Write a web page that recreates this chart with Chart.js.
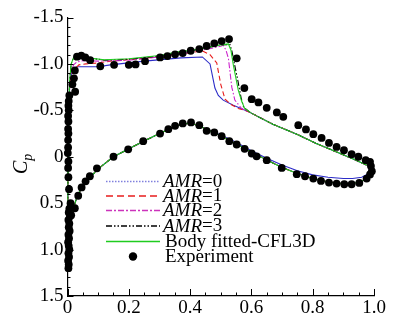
<!DOCTYPE html>
<html>
<head>
<meta charset="utf-8">
<script src="https://cdn.jsdelivr.net/npm/chart.js@4.4.1/dist/chart.umd.min.js"></script>
<style>
  html, body { margin: 0; padding: 0; background: #fff; }
  #wrap { width: 409px; height: 326px; }
</style>
</head>
<body>
<div id="wrap"><canvas id="cp"></canvas></div>
<script>
// tick values
const xTickValues = [0, 0.2, 0.4, 0.6, 0.8, 1.0];
const yTickValues = [-1.5, -1.0, -0.5, 0, 0.5, 1.0, 1.5];

// lower surface (shared by the CFD runs), LE -> TE
const lowerX = [0, 0.003, 0.007, 0.012, 0.02, 0.03, 0.045, 0.06, 0.08, 0.1, 0.15, 0.2, 0.25, 0.3, 0.35, 0.38, 0.4, 0.43, 0.45, 0.5, 0.55, 0.6, 0.65, 0.7, 0.75, 0.8, 0.85, 0.9, 0.93, 0.96, 0.98, 0.995];
const lowerCp = [1.0, 0.85, 0.72, 0.64, 0.55, 0.44, 0.34, 0.27, 0.2, 0.13, 0.0, -0.085, -0.17, -0.25, -0.325, -0.355, -0.36, -0.335, -0.3, -0.225, -0.14, -0.05, 0.035, 0.115, 0.18, 0.235, 0.27, 0.29, 0.29, 0.265, 0.215, 0.16];
const lowerCpAmr0 = [1.0, 0.85, 0.72, 0.64, 0.55, 0.44, 0.34, 0.27, 0.2, 0.13, 0.0, -0.085, -0.17, -0.25, -0.325, -0.355, -0.36, -0.335, -0.305, -0.235, -0.155, -0.065, 0.015, 0.09, 0.15, 0.195, 0.22, 0.235, 0.235, 0.22, 0.185, 0.14];

// upper surface behind the shock (shared)
const aftX = [0.6, 0.62, 0.67, 0.75, 0.81, 0.89, 0.94, 0.975, 0.995];
const aftCp = [-0.47, -0.435, -0.35, -0.24, -0.145, -0.035, 0.035, 0.09, 0.12];

// upper surface, LE -> shock, per run
const amr0X = [0.001, 0.002, 0.004, 0.007, 0.012, 0.02, 0.03, 0.06, 0.1, 0.14, 0.25, 0.37, 0.44, 0.465, 0.481, 0.492, 0.508, 0.541, 0.574];
const amr0Cp = [0.5, 0.0, -0.5, -0.75, -0.88, -0.95, -0.97, -0.97, -0.97, -0.99, -1.03, -1.065, -1.075, -1.0, -0.74, -0.66, -0.61, -0.556, -0.51];
const amr1X = [0.001, 0.002, 0.004, 0.007, 0.012, 0.02, 0.037, 0.06, 0.1, 0.14, 0.25, 0.356, 0.44, 0.465, 0.487, 0.5, 0.514, 0.535, 0.557, 0.58];
const amr1Cp = [0.5, 0.0, -0.5, -0.75, -0.87, -0.93, -0.99, -1.0, -1.01, -1.03, -1.06, -1.1, -1.14, -1.1, -1.01, -0.78, -0.62, -0.56, -0.52, -0.5];
const amr2X = [0.001, 0.002, 0.004, 0.007, 0.012, 0.02, 0.03, 0.05, 0.1, 0.2, 0.3, 0.4, 0.45, 0.5, 0.508, 0.517, 0.525, 0.536, 0.546, 0.568];
const amr2Cp = [0.5, 0.0, -0.5, -0.8, -0.93, -0.99, -1.02, -1.035, -1.03, -1.04, -1.075, -1.125, -1.155, -1.19, -1.2, -1.15, -1.06, -0.75, -0.61, -0.52];
const amr3X = [0.001, 0.002, 0.004, 0.007, 0.012, 0.02, 0.035, 0.05, 0.08, 0.12, 0.2, 0.3, 0.4, 0.45, 0.49, 0.53, 0.537, 0.546, 0.557, 0.566, 0.575];
const amr3Cp = [0.5, 0.0, -0.5, -0.82, -1.0, -1.07, -1.1, -1.09, -1.06, -1.04, -1.05, -1.085, -1.14, -1.17, -1.2, -1.21, -1.13, -0.98, -0.8, -0.64, -0.53];
const cfl3dX = [0.001, 0.002, 0.004, 0.007, 0.012, 0.02, 0.035, 0.05, 0.08, 0.12, 0.2, 0.3, 0.36, 0.41, 0.45, 0.5, 0.525, 0.533, 0.541, 0.557, 0.568, 0.578];
const cfl3dCp = [0.5, 0.0, -0.5, -0.82, -1.0, -1.07, -1.09, -1.085, -1.06, -1.045, -1.055, -1.09, -1.13, -1.15, -1.17, -1.205, -1.215, -1.15, -0.99, -0.72, -0.6, -0.52];

// experiment
const expX = [0.006, 0.004, 0.003, 0.004, 0.002, 0.003, 0.002, 0.003, 0.002, 0.002, 0.001, 0.003, 0.002, 0.003, 0.005, 0.01, 0.006, 0.004, 0.008, 0.003, 0.006, 0.004, 0.007, 0.003, 0.005, 0.002, 0.004, 0.006, 0.003, 0.005, 0.002, 0.004, 0.003,
  0.025, 0.016, 0.021, 0.024, 0.031, 0.045, 0.058, 0.074, 0.107, 0.152, 0.2, 0.222, 0.253, 0.302, 0.326, 0.351, 0.376, 0.402, 0.43, 0.454, 0.479, 0.503, 0.527, 0.552, 0.577, 0.601, 0.623, 0.65, 0.683, 0.704, 0.753, 0.778, 0.802, 0.829, 0.853, 0.878, 0.902, 0.927, 0.949, 0.973, 0.987,
  0.012, 0.024, 0.035, 0.046, 0.059, 0.073, 0.096, 0.15, 0.198, 0.247, 0.302, 0.329, 0.351, 0.376, 0.403, 0.43, 0.454, 0.479, 0.503, 0.528, 0.552, 0.578, 0.601, 0.617, 0.65, 0.699, 0.748, 0.775, 0.802, 0.827, 0.853, 0.878, 0.903, 0.927, 0.952, 0.976, 0.987, 0.993, 0.99];
const expCp = [-0.66, -0.6, -0.55, -0.5, -0.44, -0.38, -0.3, -0.25, -0.18, -0.1, -0.04, 0.05, 0.12, 0.22, 0.35, 0.5, 0.56, 0.6, 0.64, 0.68, 0.72, 0.76, 0.8, 0.84, 0.88, 0.92, 0.96, 1.0, 1.04, 1.08, 1.12, 1.16, 1.2,
  -0.7, -0.78, -0.845, -0.93, -1.078, -1.09, -1.07, -1.04, -0.975, -0.99, -0.99, -0.995, -1.03, -1.07, -1.085, -1.103, -1.117, -1.142, -1.16, -1.193, -1.222, -1.246, -1.268, -1.06, -0.74, -0.62, -0.585, -0.527, -0.477, -0.43, -0.34, -0.294, -0.243, -0.203, -0.149, -0.106, -0.07, -0.027, 0.0, 0.037, 0.055,
  0.63, 0.555, 0.42, 0.33, 0.265, 0.21, 0.125, 0.0, -0.08, -0.168, -0.25, -0.297, -0.333, -0.359, -0.37, -0.34, -0.279, -0.262, -0.222, -0.168, -0.132, -0.085, -0.035, -0.005, 0.037, 0.12, 0.188, 0.21, 0.235, 0.26, 0.278, 0.289, 0.296, 0.296, 0.282, 0.235, 0.19, 0.156, 0.1];

const legendLabels = ["0", "1", "2", "3", "Body fitted-CFL3D", "Experiment"];

function pts(xs, ys) {
  return xs.map((v, i) => ({ x: v, y: ys[i] }));
}
// contour: lower TE -> LE -> upper -> TE
function contour(lowCp, upX, upCp) {
  return pts(lowerX, lowCp).reverse().concat(pts(upX, upCp), pts(aftX, aftCp));
}

const SERIF = "'Liberation Serif', 'Times New Roman', serif";

const lineStyles = [
  { color: "#2c2cc8", dash: [], legendColor: "#8080dd", legendDash: [1.5, 1.5] },
  { color: "#e81c1c", dash: [5, 3], legendColor: "#e81c1c", legendDash: [7, 4] },
  { color: "#cc22cc", dash: [6, 2, 1.5, 2], legendColor: "#cc33bb", legendDash: [6, 2, 2, 2] },
  { color: "#000000", dash: [6, 2, 1.5, 2, 1.5, 2], legendColor: "#000000", legendDash: [6, 2, 1.5, 2, 1.5, 2] },
  { color: "#1fcc1f", dash: [], legendColor: "#1fcc1f", legendDash: [] },
];

function lineSet(data, s, order) {
  return {
    data: data,
    showLine: true,
    borderColor: s.color,
    borderDash: s.dash,
    borderWidth: 1.1,
    pointRadius: 0,
    tension: 0,
    clip: false,
    order: order,
  };
}

// ticks inside the axes
const innerTicks = {
  id: "innerTicks",
  afterDraw(chart) {
    const { ctx, chartArea: a, scales } = chart;
    ctx.save();
    ctx.strokeStyle = "#000";
    ctx.lineWidth = 1;
    ctx.beginPath();
    for (let i = 0; i <= 20; i++) {
      const px = Math.round(scales.x.getPixelForValue(i * 0.05)) + 0.5;
      const len = i % 4 === 0 ? 7 : 3.5;
      ctx.moveTo(px, a.bottom);
      ctx.lineTo(px, a.bottom - len);
    }
    for (let k = -15; k <= 15; k++) {
      const py = Math.round(scales.y.getPixelForValue(k / 10)) + 0.5;
      const len = k % 5 === 0 ? 6 : 3;
      ctx.moveTo(a.left, py);
      ctx.lineTo(a.left + len, py);
    }
    ctx.stroke();
    ctx.restore();
  },
};

// y title C_p and the legend box
const decorations = {
  id: "decorations",
  afterDraw(chart) {
    const { ctx } = chart;
    ctx.save();
    ctx.fillStyle = "#000";
    ctx.textBaseline = "alphabetic";
    // C_p rotated
    ctx.save();
    ctx.translate(27, 174);
    ctx.rotate(-Math.PI / 2);
    ctx.font = "italic 20px " + SERIF;
    ctx.fillText("C", 0, 0);
    const cw = ctx.measureText("C").width;
    ctx.font = "italic 14px " + SERIF;
    ctx.fillText("p", cw, 5);
    ctx.restore();

    // legend
    const x0 = 106, x1 = 160, tx = 163;
    const rows = [181, 195.5, 210, 225.5, 241, 256.5];
    for (let i = 0; i < 5; i++) {
      const s = lineStyles[i];
      ctx.beginPath();
      ctx.strokeStyle = s.legendColor;
      ctx.lineWidth = 1.3;
      ctx.setLineDash(s.legendDash);
      ctx.moveTo(x0, rows[i] + 0.5);
      ctx.lineTo(x1, rows[i] + 0.5);
      ctx.stroke();
    }
    ctx.setLineDash([]);
    ctx.beginPath();
    ctx.arc(133, rows[5], 4.2, 0, Math.PI * 2);
    ctx.fill();

    ctx.textBaseline = "middle";
    for (let i = 0; i < 6; i++) {
      let x = tx;
      if (i < 4) {
        ctx.font = "italic 19px " + SERIF;
        ctx.fillText("AMR", x, rows[i] + 1);
        x += ctx.measureText("AMR").width;
        ctx.font = "19px " + SERIF;
        ctx.fillText("=" + legendLabels[i], x, rows[i] + 1);
      } else {
        ctx.font = "19px " + SERIF;
        ctx.fillText(legendLabels[i], x + 2, rows[i] + 1);
      }
    }
    ctx.restore();
  },
};

function fmt(v) {
  return v === 0 ? "0" : v.toFixed(1);
}

new Chart(document.getElementById("cp"), {
  type: "scatter",
  data: {
    datasets: [
      {
        data: pts(expX, expCp),
        pointRadius: 3.9,
        pointBackgroundColor: "#000",
        pointBorderWidth: 0,
        showLine: false,
        clip: false,
        order: 0,
      },
      lineSet(contour(lowerCp, cfl3dX, cfl3dCp), lineStyles[4], 1),
      lineSet(contour(lowerCp, amr3X, amr3Cp), lineStyles[3], 2),
      lineSet(contour(lowerCp, amr2X, amr2Cp), lineStyles[2], 3),
      lineSet(contour(lowerCp, amr1X, amr1Cp), lineStyles[1], 4),
      lineSet(contour(lowerCpAmr0, amr0X, amr0Cp), lineStyles[0], 5),
    ],
  },
  options: {
    responsive: true,
    maintainAspectRatio: false,
    animation: false,
    events: [],
    layout: { padding: { top: 17.5, right: 35, left: 0, bottom: 0 } },
    plugins: { legend: { display: false }, tooltip: { enabled: false } },
    scales: {
      x: {
        type: "linear",
        min: 0,
        max: 1,
        afterBuildTicks: (s) => { s.ticks = xTickValues.map((v) => ({ value: v })); },
        afterFit: (s) => { s.height = 30; },
        grid: { display: false, drawTicks: false },
        border: { display: true, color: "#000", width: 1.2 },
        ticks: {
          color: "#000",
          padding: 1,
          maxRotation: 0,
          autoSkip: false,
          font: { family: SERIF, size: 19 },
          callback: (v) => fmt(v),
        },
      },
      y: {
        type: "linear",
        reverse: true,
        min: -1.5,
        max: 1.5,
        afterBuildTicks: (s) => { s.ticks = yTickValues.map((v) => ({ value: v })); },
        afterFit: (s) => { s.width = 67.5; },
        grid: { display: false, drawTicks: false },
        border: { display: true, color: "#000", width: 1.2 },
        ticks: {
          color: "#000",
          padding: 4,
          autoSkip: false,
          font: { family: SERIF, size: 19 },
          callback: (v) => fmt(v),
        },
      },
    },
  },
  plugins: [innerTicks, decorations],
});
</script>
</body>
</html>
